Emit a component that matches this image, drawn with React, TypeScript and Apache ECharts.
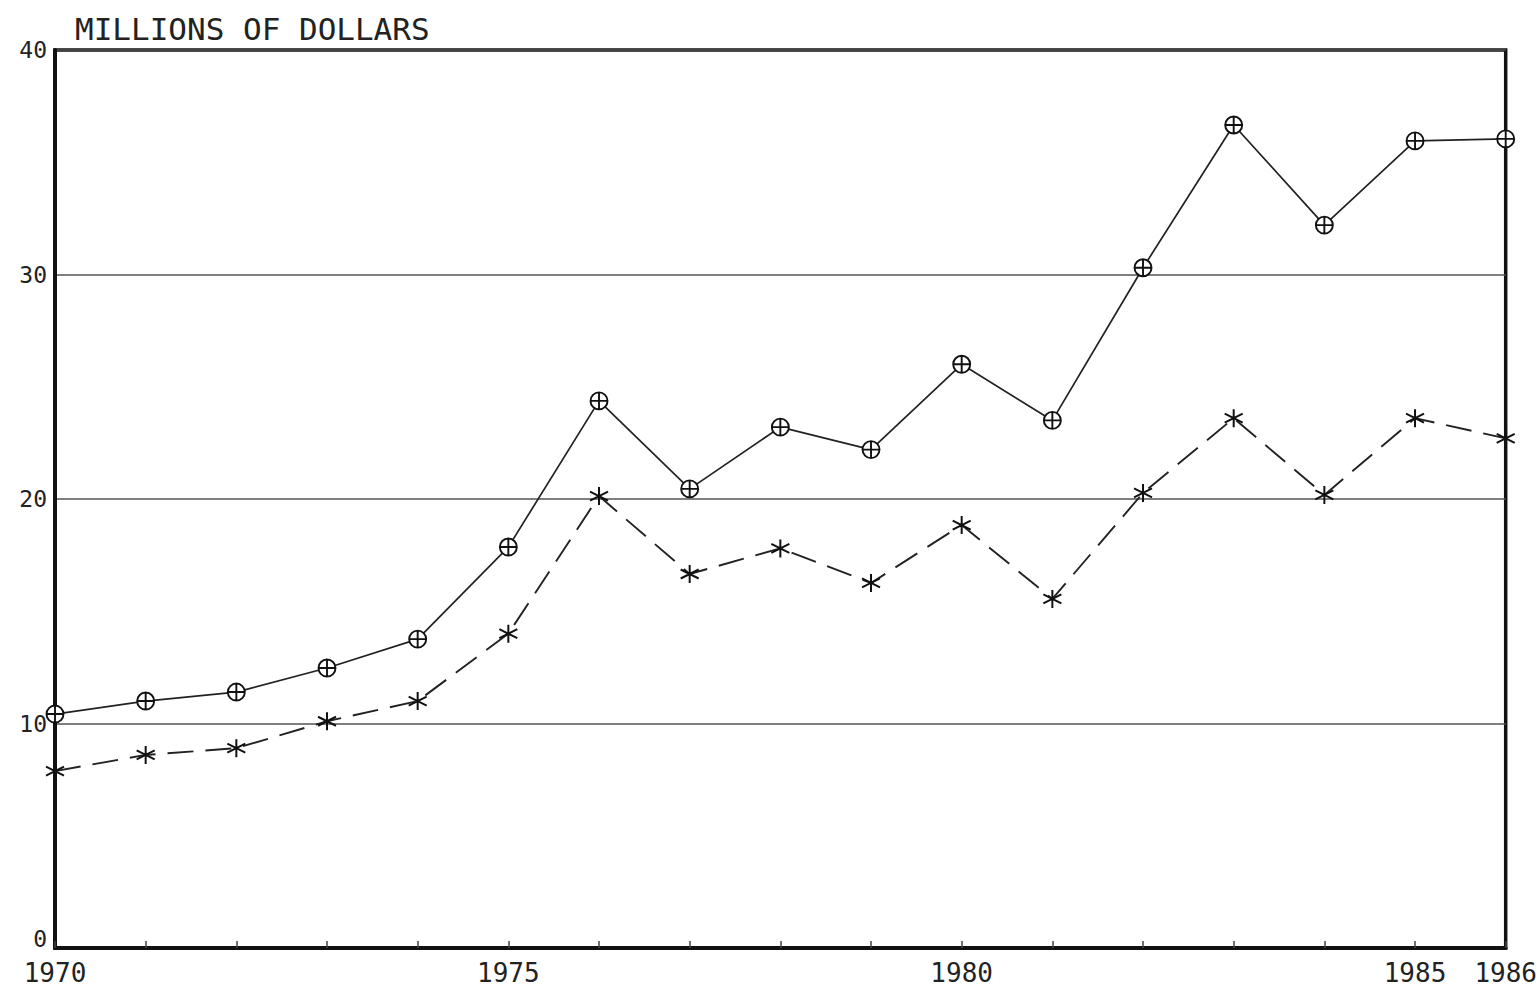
import React, { useEffect, useRef } from "react";
import * as echarts from "echarts";

const years = [1970, 1971, 1972, 1973, 1974, 1975, 1976, 1977, 1978, 1979, 1980, 1981, 1982, 1983, 1984, 1985, 1986];
const solidSeries = [10.42, 11.0, 11.4, 12.47, 13.76, 17.86, 24.37, 20.45, 23.2, 22.2, 26.0, 23.5, 30.3, 36.66, 32.2, 35.95, 36.04];
const dashedSeries = [7.88, 8.6, 8.9, 10.1, 11.0, 14.0, 20.13, 16.66, 17.8, 16.26, 18.84, 15.55, 20.27, 23.6, 20.18, 23.6, 22.7];
const xLabelYears = [1970, 1975, 1980, 1985, 1986];
const yTicks = [0, 10, 20, 30, 40];
const titleText = "MILLIONS OF DOLLARS";

const FONT = "'DejaVu Sans Mono', 'Liberation Mono', monospace";
const CIRCLE_PLUS =
  "path://M0,-10 A10,10 0 1,1 0,10 A10,10 0 1,1 0,-10 Z M-10,0 L10,0 M0,-10 L0,10";
const ASTERISK = "path://M0,-10 L0,10 M-8.7,-5 L8.7,5 M-8.7,5 L8.7,-5";

export default function App() {
  const ref = useRef<HTMLDivElement>(null);
  useEffect(() => {
    if (!ref.current) return;
    const chart = echarts.init(ref.current, null, { renderer: "svg" });
    chart.setOption({
      animation: false,
      backgroundColor: "#ffffff",
      title: {
        text: titleText,
        left: 70,
        top: 8,
        textStyle: { fontFamily: FONT, fontSize: 31, fontWeight: "normal", color: "#222" },
      },
      grid: {
        left: 55,
        right: 33,
        top: 50,
        bottom: 42,
        show: true,
        borderColor: "#111",
        borderWidth: 3.5,
        backgroundColor: "transparent",
      },
      xAxis: {
        type: "value",
        min: 1970,
        max: 1986,
        interval: 1,
        axisLine: { show: true, lineStyle: { color: "#111", width: 4 } },
        axisTick: { show: true, inside: true, length: 7, lineStyle: { color: "#444", width: 1.5 } },
        splitLine: { show: false },
        axisLabel: {
          fontFamily: FONT,
          fontSize: 26,
          color: "#222",
          margin: 12,
          formatter: (v: number) => (xLabelYears.includes(v) ? String(v) : ""),
        },
      },
      yAxis: {
        type: "value",
        min: yTicks[0],
        max: yTicks[yTicks.length - 1],
        interval: 10,
        axisLine: { show: true, lineStyle: { color: "#111", width: 4 } },
        axisTick: { show: false },
        splitLine: { show: true, lineStyle: { color: "#555", width: 1.5 } },
        axisLabel: {
          fontFamily: FONT,
          fontSize: 23,
          color: "#222",
          margin: 8,
          formatter: (v: number) => (v === 0 ? "{z|0}" : String(v)),
          rich: {
            z: { fontFamily: FONT, fontSize: 23, color: "#222", padding: [0, 0, 18, 0] },
          },
        },
      },
      series: [
        {
          type: "line",
          data: years.map((y, i) => [y, solidSeries[i]]),
          symbol: CIRCLE_PLUS,
          symbolSize: 17,
          showAllSymbol: true,
          lineStyle: { color: "#222", width: 1.7, type: "solid" },
          itemStyle: { color: "#ffffff", borderColor: "#111", borderWidth: 1.9 },
          z: 3,
        },
        {
          type: "line",
          data: years.map((y, i) => [y, dashedSeries[i]]),
          symbol: ASTERISK,
          symbolSize: 18,
          showAllSymbol: true,
          lineStyle: { color: "#222", width: 1.9, type: [26, 12] },
          itemStyle: { color: "transparent", borderColor: "#111", borderWidth: 2 },
          z: 3,
        },
      ],
    });
    return () => chart.dispose();
  }, []);
  return (
    <div
      ref={ref}
      style={{ position: "absolute", left: 0, top: 0, width: 1540, height: 990, background: "#fff" }}
    />
  );
}
